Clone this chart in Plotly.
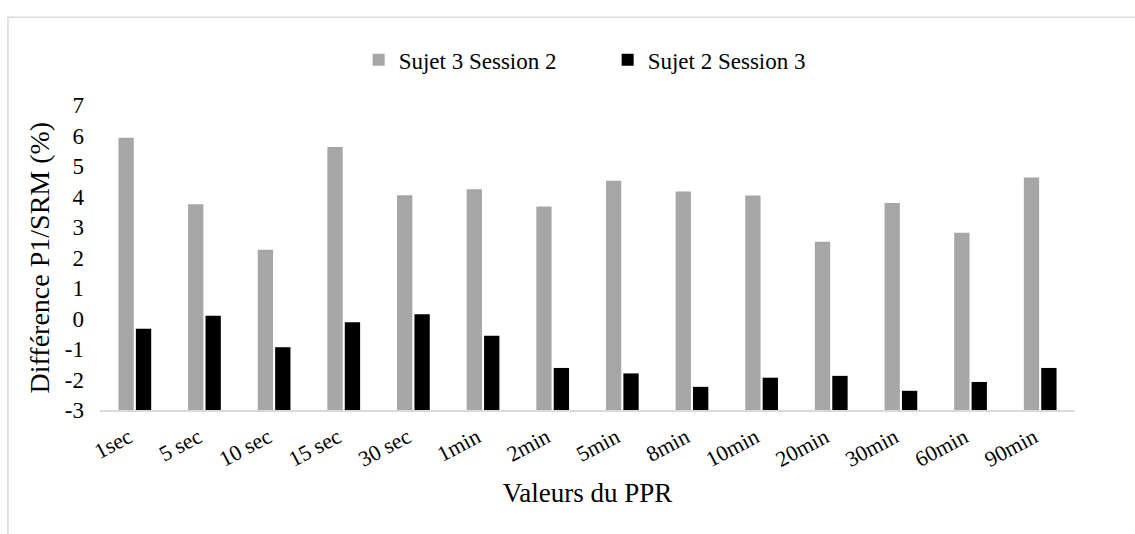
import plotly.graph_objects as go

categories = ["1sec", "5 sec", "10 sec", "15 sec", "30 sec", "1min", "2min",
              "5min", "8min", "10min", "20min", "30min", "60min", "90min"]
sujet3_session2 = [5.93, 3.75, 2.26, 5.63, 4.05, 4.24, 3.68, 4.52, 4.17, 4.04, 2.52, 3.79, 2.82, 4.63]
sujet2_session3 = [-0.33, 0.09, -0.94, -0.12, 0.14, -0.56, -1.62, -1.80, -2.24, -1.94, -1.88, -2.37, -2.08, -1.62]
y_min, y_max = -3, 7
tick_vals = list(range(y_min, y_max + 1))
tick_text = [str(v) for v in tick_vals]

FONT = "Liberation Serif"

fig = go.Figure()
fig.add_trace(go.Bar(
    name="Sujet 3 Session 2", x=categories,
    y=[v - y_min for v in sujet3_session2], base=y_min,
    marker=dict(color="#a6a6a6", line=dict(width=0)),
))
fig.add_trace(go.Bar(
    name="Sujet 2 Session 3", x=categories,
    y=[v - y_min for v in sujet2_session3], base=y_min,
    marker=dict(color="#000000", line=dict(width=0)),
))

fig.update_layout(
    width=1135, height=534,
    margin=dict(l=100, r=60, t=99, b=124),
    paper_bgcolor="white", plot_bgcolor="white",
    font=dict(family=FONT, color="#000000"),
    barmode="group", bargap=0.5, bargroupgap=0.12,
    legend=dict(
        orientation="h", xref="container", yref="container",
        x=0.316, y=0.888, xanchor="left", yanchor="middle",
        font=dict(size=23, family=FONT, color="#000000"), entrywidth=204,
        bgcolor="rgba(0,0,0,0)",
    ),
    xaxis=dict(
        showline=True, linecolor="#d9d9d9", linewidth=2,
        showgrid=False, zeroline=False, ticks="",
        tickangle=-28, tickfont=dict(size=22, family=FONT, color="#000000"),
        ticklabelstandoff=4, ticklabelshift=-6,
        range=[-0.5, len(categories) - 0.5],
        title=dict(text="Valeurs du PPR", font=dict(size=27, family=FONT, color="#000000"), standoff=12),
    ),
    yaxis=dict(
        range=[y_min, y_max], tickvals=tick_vals, ticktext=tick_text,
        showgrid=False, zeroline=False, showline=False, ticks="",
        tickfont=dict(size=23, family=FONT, color="#000000"), ticklabelstandoff=15,
        title=dict(text="Différence P1/SRM (%)", font=dict(size=28, family=FONT, color="#000000"), standoff=7),
    ),
    shapes=[dict(
        type="rect", xref="paper", yref="paper",
        x0=-0.0944, x1=1.08, y0=-0.6, y1=1.289,
        line=dict(color="#d9d9d9", width=1.5), fillcolor="rgba(0,0,0,0)", layer="below",
    )],
)

fig.write_html("out.html")
